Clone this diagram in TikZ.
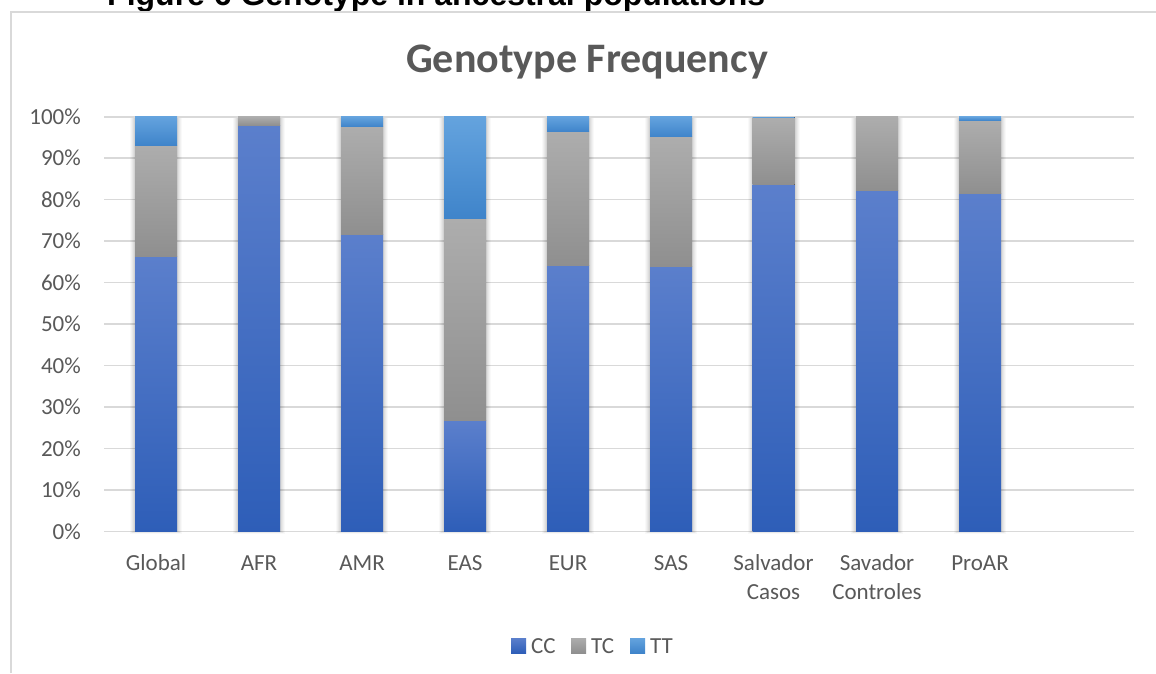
\documentclass[tikz,border=0pt]{standalone}
\usepackage{fontspec}
\setmainfont{Carlito}
\newfontfamily\capfont{Liberation Sans}
\definecolor{cctop}{HTML}{5B7FCC}
\definecolor{ccbot}{HTML}{2E5EB8}
\definecolor{tctop}{HTML}{ADADAD}
\definecolor{tcbot}{HTML}{8F8F8F}
\definecolor{tttop}{HTML}{64A3DE}
\definecolor{ttbot}{HTML}{3F84CA}
\definecolor{txtgray}{HTML}{595959}
\definecolor{gridc}{HTML}{D9D9D9}
\tikzset{
  gridline/.style={draw=gridc, line width=1.6pt},
  framel/.style={draw=gridc, line width=1.4pt},
  lbl/.style={text=txtgray, font=\fontsize{23}{28}\selectfont, inner sep=0pt},
  ttl/.style={text=txtgray, font=\fontsize{42}{48}\selectfont\bfseries, inner sep=0pt},
  figcap/.style={text=black, font=\capfont\fontsize{32}{36}\selectfont\bfseries, inner sep=0pt},
  ccseg/.style={top color=cctop, bottom color=ccbot, draw=none},
  tcseg/.style={top color=tctop, bottom color=tcbot, draw=none},
  ttseg/.style={top color=tttop, bottom color=ttbot, draw=none},
}
% #1 centre x, #2 CC top (%), #3 CC+TC top (%)
\newcommand\drawgbar[3]{%
  \foreach \d/\o in {5/0.025,4/0.03,3/0.035,2/0.04,1/0.05}{%
    \fill[black,opacity=\o] ({#1-21-\d},{116.7+1}) rectangle ({#1+21+\d},{531.5+\d*0.4});
  }
  \fill[ccseg] ({#1-21},531.5) rectangle ({#1+21},{531.5-4.148*#2});
  \fill[tcseg] ({#1-21},{531.5-4.148*#2}) rectangle ({#1+21},{531.5-4.148*#3});
  \ifdim #3pt<100pt
    \fill[ttseg] ({#1-21},{531.5-4.148*#3}) rectangle ({#1+21},116.7);
  \fi
}
\begin{document}
\begin{tikzpicture}[x=1pt,y=-1pt]
\useasboundingbox (0,0) rectangle (1156,673);
\clip (0,0) rectangle (1156,673);
\fill[white] (0,0) rectangle (1156,673);
% caption (cut off at top, as in the reference)
\node[figcap, anchor=base west] (caption) at (107,5) {Figure 6 Genotype in ancestral populations};
% chart frame
\draw[framel] (11,673) -- (11,12) -- (1156,12);
% title
\node[ttl, anchor=base] (title) at (587,72) {Genotype Frequency};
% grid lines and y labels
\foreach \k in {0,...,10}{
  \draw[gridline] (104,{531.5-41.48*\k}) -- (1134,{531.5-41.48*\k});
  \node[lbl, anchor=base east] (y\k) at (81,{539-41.48*\k}) {\the\numexpr\k*10\relax\%};
}
% bars
\drawgbar{156}{66.4}{93.1}
\drawgbar{259}{97.9}{100}
\drawgbar{362}{71.5}{97.6}
\drawgbar{465}{26.8}{75.4}
\drawgbar{568}{64.1}{96.4}
\drawgbar{671}{64.0}{95.2}
\drawgbar{773.5}{83.6}{99.7}
\drawgbar{877}{82.1}{100}
\drawgbar{980}{81.4}{99.1}
% x labels
\node[lbl, anchor=base] (xglobal) at (156,570) {Global};
\node[lbl, anchor=base] (xafr) at (259,570) {AFR};
\node[lbl, anchor=base] (xamr) at (362,570) {AMR};
\node[lbl, anchor=base] (xeas) at (465,570) {EAS};
\node[lbl, anchor=base] (xeur) at (568,570) {EUR};
\node[lbl, anchor=base] (xsas) at (671,570) {SAS};
\node[lbl, anchor=base] (xsc1) at (773.5,570) {Salvador};
\node[lbl, anchor=base] (xsc2) at (773.5,599) {Casos};
\node[lbl, anchor=base] (xct1) at (877,570) {Savador};
\node[lbl, anchor=base] (xct2) at (877,599) {Controles};
\node[lbl, anchor=base] (xpro) at (980,570) {ProAR};
% legend
\fill[ccseg] (511,638) rectangle (526,653);
\node[lbl, anchor=base west] (lcc) at (531,653) {CC};
\fill[tcseg] (571,638) rectangle (586,653);
\node[lbl, anchor=base west] (ltc) at (591,653) {TC};
\fill[ttseg] (630,638) rectangle (645,653);
\node[lbl, anchor=base west] (ltt) at (650,653) {TT};
\end{tikzpicture}
\end{document}
